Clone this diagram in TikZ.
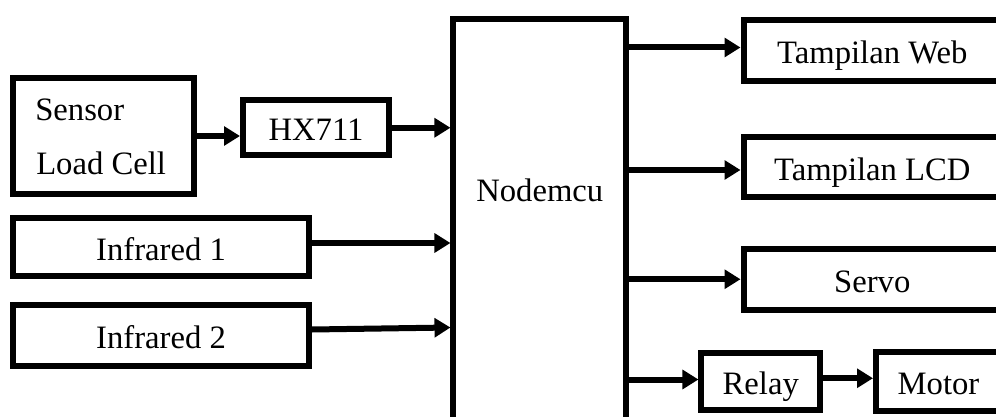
\documentclass[tikz,border=0pt]{standalone}
\usepackage{fontspec}
\setmainfont{Liberation Serif}
\usetikzlibrary{arrows.meta,calc}
\begin{document}
\begin{tikzpicture}[x=0.75pt,y=-0.75pt,
  blk/.style={draw,line width=4.5pt,inner sep=0pt,text height=19.5pt,text depth=0pt,font=\fontsize{24.5pt}{29pt}\selectfont},
  txt/.style={inner sep=0pt,font=\fontsize{24.5pt}{29pt}\selectfont},
  arr/.style={line width=4.5pt,-{Triangle[length=12pt,width=14pt]}}]
\path[use as bounding box] (0,0) rectangle (996,417);
\clip (0,0) rectangle (996,417);
% left side
\node[blk,minimum width=135.75pt,minimum height=87pt] (sensor) at (103.5,136) {};
\node[txt,anchor=base west] (sensortxt) at (35,121) {Sensor};
\node[txt,anchor=base west] (loadtxt) at (36,175) {Load Cell};
\node[blk,minimum width=109.5pt,minimum height=41.6pt] (hx) at (316,127.75) {HX711};
\node[blk,minimum width=222pt,minimum height=43.5pt] (ir1) at (161,247) {Infrared 1};
\node[blk,minimum width=222pt,minimum height=45.75pt] (ir2) at (161,335) {Infrared 2};
% center
\node[blk,minimum width=129.4pt,minimum height=323.25pt] (mcu) at (539.75,234.5) {};
\node[txt,anchor=base] (mcutxt) at (539.75,202) {Nodemcu};
% right side
\node[blk,minimum width=193.1pt,minimum height=45.4pt] (web) at (872.25,50.25) {Tampilan Web};
\node[blk,minimum width=193.1pt,minimum height=45pt] (lcd) at (872.25,167.5) {Tampilan LCD};
\node[blk,minimum width=193.1pt,minimum height=45.4pt] (servo) at (872.25,279.25) {Servo};
\node[blk,minimum width=88.9pt,minimum height=43.1pt] (relay) at (760.75,381.75) {Relay};
\node[blk,minimum width=93.75pt,minimum height=43.9pt] (motor) at (938.5,381.25) {Motor};
% connectors
\draw[arr] (sensor.east) -- (sensor.east -| hx.west);
\draw[arr] (hx.east) -- (hx.east -| mcu.west);
\draw[arr] ($(ir1.east)+(0,-4)$) -- ($(ir1.east -| mcu.west)+(0,-4)$);
\draw[arr] ($(ir2.east)+(0,-5.5)$) -- ($(ir2.east -| mcu.west)+(0,-7.5)$);
\draw[arr] ($(web.west -| mcu.east)+(0,-2.75)$) -- ($(web.west)+(0,-2.75)$);
\draw[arr] ($(lcd.west -| mcu.east)+(0,2.5)$) -- ($(lcd.west)+(0,2.5)$);
\draw[arr] (servo.west -| mcu.east) -- (servo.west);
\draw[arr] ($(relay.west -| mcu.east)+(0,-2.25)$) -- ($(relay.west)+(0,-2.25)$);
\draw[arr] ($(relay.east)+(0,-3.5)$) -- ($(relay.east -| motor.west)+(0,-3.5)$);
\end{tikzpicture}
\end{document}
